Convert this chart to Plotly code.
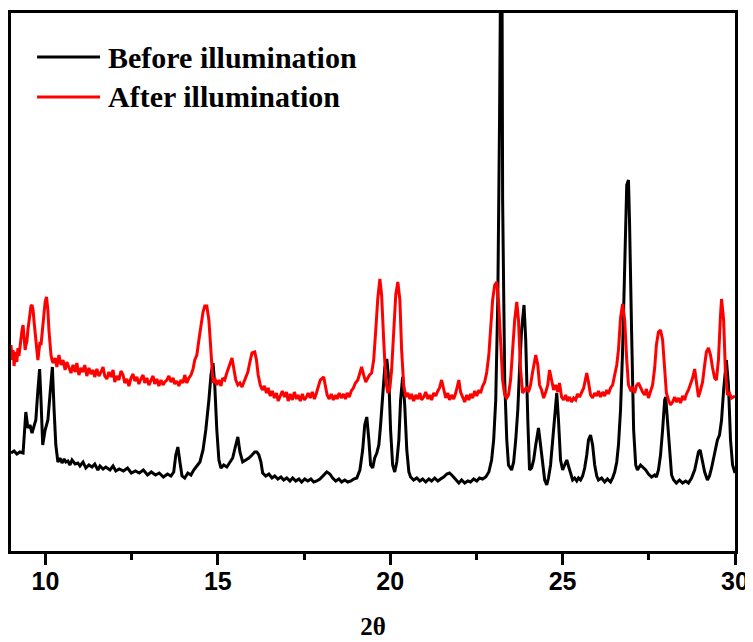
import plotly.graph_objects as go

# ---- data: 2-theta (deg) and intensity (arb. units) ----
two_theta_before = [
    9.00, 9.09, 9.17, 9.26, 9.35, 9.41, 9.43, 9.49, 9.55, 9.61,
    9.67, 9.72, 9.78, 9.83, 9.87, 9.92, 9.99, 10.07, 10.13, 10.20,
    10.25, 10.30, 10.36, 10.42, 10.48, 10.54, 10.59, 10.65, 10.71, 10.77,
    10.86, 10.94, 11.00, 11.09, 11.17, 11.26, 11.35, 11.43, 11.52, 11.58,
    11.67, 11.75, 11.87, 11.96, 12.04, 12.14, 12.26, 12.38, 12.49, 12.61,
    12.72, 12.84, 12.96, 13.07, 13.19, 13.30, 13.42, 13.54, 13.64, 13.72,
    13.78, 13.84, 13.90, 13.96, 14.04, 14.13, 14.22, 14.30, 14.39, 14.48,
    14.57, 14.65, 14.74, 14.80, 14.86, 14.91, 14.97, 15.03, 15.09, 15.17,
    15.26, 15.35, 15.43, 15.52, 15.58, 15.64, 15.72, 15.81, 15.90, 15.99,
    16.07, 16.13, 16.19, 16.25, 16.30, 16.39, 16.48, 16.57, 16.65, 16.74,
    16.83, 16.91, 17.00, 17.09, 17.17, 17.26, 17.35, 17.43, 17.52, 17.61,
    17.70, 17.78, 17.87, 17.96, 18.06, 18.16, 18.25, 18.33, 18.42, 18.51,
    18.59, 18.68, 18.77, 18.86, 18.94, 19.03, 19.12, 19.20, 19.26, 19.32,
    19.38, 19.43, 19.49, 19.55, 19.61, 19.67, 19.72, 19.78, 19.84, 19.90,
    19.96, 20.01, 20.07, 20.13, 20.19, 20.25, 20.30, 20.36, 20.42, 20.48,
    20.54, 20.59, 20.68, 20.77, 20.86, 20.94, 21.03, 21.12, 21.20, 21.29,
    21.38, 21.46, 21.55, 21.64, 21.72, 21.81, 21.90, 21.99, 22.07, 22.16,
    22.25, 22.33, 22.42, 22.51, 22.59, 22.68, 22.77, 22.86, 22.94, 23.00,
    23.06, 23.12, 23.17, 23.23, 23.26, 23.32, 23.38, 23.43, 23.52, 23.58,
    23.64, 23.70, 23.75, 23.81, 23.88, 23.93, 23.99, 24.04, 24.10, 24.16,
    24.22, 24.28, 24.30, 24.36, 24.42, 24.48, 24.54, 24.59, 24.65, 24.71,
    24.77, 24.83, 24.88, 24.94, 25.00, 25.06, 25.12, 25.17, 25.23, 25.29,
    25.35, 25.41, 25.46, 25.52, 25.58, 25.64, 25.70, 25.75, 25.81, 25.87,
    25.93, 25.99, 26.04, 26.13, 26.22, 26.30, 26.39, 26.45, 26.51, 26.57,
    26.62, 26.68, 26.74, 26.80, 26.86, 26.91, 26.94, 27.00, 27.06, 27.12,
    27.17, 27.26, 27.32, 27.41, 27.49, 27.58, 27.67, 27.72, 27.78, 27.84,
    27.90, 27.96, 27.99, 28.04, 28.10, 28.16, 28.22, 28.30, 28.39, 28.48,
    28.57, 28.65, 28.74, 28.83, 28.88, 28.94, 28.99, 29.03, 29.12, 29.20,
    29.26, 29.32, 29.38, 29.43, 29.49, 29.55, 29.61, 29.67, 29.72, 29.75,
    29.81, 29.87, 29.93, 30.00,
]
intensity_before = [
    98, 100, 97, 99, 98, 131, 139, 123, 126, 118,
    124, 131, 161, 182, 151, 106, 121, 131, 156, 184,
    141, 106, 89, 93, 88, 92, 89, 90, 86, 91,
    87, 88, 85, 89, 83, 86, 84, 87, 81, 85,
    82, 84, 81, 85, 80, 82, 80, 83, 78, 80,
    78, 81, 76, 79, 76, 78, 74, 77, 75, 79,
    96, 104, 89, 75, 73, 78, 76, 81, 85, 89,
    101, 121, 151, 176, 188, 166, 121, 91, 83, 86,
    84, 89, 93, 106, 114, 99, 89, 91, 93, 96,
    99, 99, 96, 89, 78, 75, 77, 73, 75, 72,
    74, 71, 73, 70, 73, 70, 72, 69, 72, 70,
    72, 69, 70, 72, 76, 79, 77, 73, 70, 72,
    69, 71, 69, 70, 72, 73, 81, 101, 126, 134,
    111, 86, 83, 93, 98, 106, 126, 156, 183, 192,
    171, 121, 86, 79, 89, 111, 151, 174, 146, 101,
    79, 74, 71, 73, 70, 72, 69, 72, 70, 73,
    70, 72, 74, 77, 78, 75, 71, 68, 71, 68,
    70, 69, 72, 70, 73, 72, 74, 79, 91, 111,
    151, 251, 431, 720, 351, 171, 111, 86, 81, 89,
    111, 141, 181, 221, 246, 211, 131, 81, 83, 91,
    106, 119, 123, 106, 86, 71, 66, 73, 86, 111,
    141, 158, 131, 91, 81, 86, 91, 85, 77, 71,
    73, 70, 73, 71, 75, 83, 96, 111, 116, 106,
    86, 75, 71, 73, 69, 72, 69, 73, 79, 89,
    106, 141, 201, 291, 366, 371, 331, 221, 121, 86,
    81, 86, 84, 81, 77, 74, 76, 74, 81, 96,
    121, 151, 154, 131, 96, 76, 71, 68, 71, 68,
    70, 68, 73, 81, 89, 99, 101, 93, 79, 71,
    75, 83, 93, 101, 111, 116, 131, 161, 186, 191,
    166, 111, 86, 78,
]

two_theta_after = [
    9.00, 9.03, 9.06, 9.09, 9.12, 9.14, 9.17, 9.20, 9.23, 9.26,
    9.29, 9.32, 9.35, 9.38, 9.41, 9.43, 9.46, 9.49, 9.52, 9.55,
    9.58, 9.61, 9.64, 9.67, 9.70, 9.72, 9.75, 9.78, 9.81, 9.84,
    9.87, 9.90, 9.93, 9.96, 9.99, 10.03, 10.07, 10.10, 10.13, 10.16,
    10.19, 10.22, 10.28, 10.33, 10.39, 10.45, 10.51, 10.57, 10.62, 10.68,
    10.74, 10.80, 10.86, 10.91, 10.97, 11.03, 11.09, 11.14, 11.20, 11.26,
    11.32, 11.38, 11.43, 11.49, 11.55, 11.61, 11.67, 11.72, 11.78, 11.84,
    11.90, 11.96, 12.01, 12.07, 12.13, 12.19, 12.25, 12.30, 12.36, 12.42,
    12.48, 12.54, 12.59, 12.65, 12.71, 12.77, 12.83, 12.88, 12.94, 13.00,
    13.06, 13.12, 13.17, 13.23, 13.29, 13.35, 13.41, 13.46, 13.52, 13.58,
    13.64, 13.70, 13.75, 13.81, 13.87, 13.93, 13.99, 14.04, 14.10, 14.16,
    14.22, 14.28, 14.33, 14.39, 14.45, 14.51, 14.57, 14.62, 14.68, 14.74,
    14.80, 14.86, 14.91, 14.97, 15.03, 15.09, 15.14, 15.20, 15.26, 15.32,
    15.38, 15.41, 15.46, 15.52, 15.58, 15.64, 15.70, 15.75, 15.81, 15.87,
    15.93, 15.99, 16.07, 16.12, 16.17, 16.23, 16.29, 16.35, 16.41, 16.46,
    16.52, 16.58, 16.64, 16.70, 16.75, 16.81, 16.87, 16.93, 16.99, 17.04,
    17.10, 17.16, 17.22, 17.28, 17.33, 17.39, 17.45, 17.51, 17.57, 17.62,
    17.68, 17.74, 17.80, 17.86, 17.91, 17.97, 18.07, 18.12, 18.17, 18.23,
    18.29, 18.35, 18.41, 18.46, 18.52, 18.58, 18.64, 18.70, 18.75, 18.81,
    18.87, 18.93, 18.99, 19.06, 19.12, 19.17, 19.23, 19.29, 19.35, 19.40,
    19.46, 19.52, 19.58, 19.64, 19.70, 19.75, 19.81, 19.87, 19.93, 19.99,
    20.04, 20.10, 20.16, 20.22, 20.28, 20.33, 20.39, 20.45, 20.51, 20.57,
    20.62, 20.68, 20.74, 20.80, 20.86, 20.91, 20.97, 21.03, 21.09, 21.14,
    21.20, 21.26, 21.32, 21.38, 21.43, 21.49, 21.55, 21.61, 21.67, 21.72,
    21.78, 21.84, 21.90, 21.96, 21.99, 22.04, 22.10, 22.16, 22.22, 22.28,
    22.33, 22.39, 22.45, 22.51, 22.57, 22.62, 22.68, 22.74, 22.80, 22.86,
    22.91, 22.97, 23.03, 23.09, 23.14, 23.20, 23.26, 23.32, 23.38, 23.43,
    23.49, 23.55, 23.61, 23.67, 23.72, 23.78, 23.84, 23.90, 23.96, 24.01,
    24.07, 24.13, 24.19, 24.22, 24.28, 24.33, 24.39, 24.45, 24.51, 24.57,
    24.62, 24.68, 24.74, 24.80, 24.86, 24.91, 24.97, 25.03, 25.09, 25.14,
    25.20, 25.26, 25.32, 25.38, 25.43, 25.49, 25.55, 25.61, 25.67, 25.70,
    25.75, 25.81, 25.87, 25.93, 25.99, 26.04, 26.10, 26.16, 26.22, 26.28,
    26.33, 26.39, 26.45, 26.51, 26.57, 26.62, 26.68, 26.74, 26.80, 26.86,
    26.91, 26.97, 27.03, 27.09, 27.14, 27.20, 27.26, 27.32, 27.38, 27.43,
    27.49, 27.55, 27.61, 27.67, 27.72, 27.78, 27.84, 27.90, 27.96, 28.01,
    28.07, 28.13, 28.19, 28.25, 28.30, 28.36, 28.42, 28.48, 28.54, 28.59,
    28.65, 28.71, 28.77, 28.83, 28.88, 28.94, 29.00, 29.06, 29.12, 29.17,
    29.23, 29.29, 29.35, 29.41, 29.46, 29.52, 29.58, 29.61, 29.67, 29.72,
    29.78, 29.84, 29.90, 30.00,
]
intensity_after = [
    206, 191, 201, 185, 196, 199, 189, 203, 195, 206,
    213, 221, 226, 211, 201, 206, 209, 221, 231, 239,
    245, 246, 241, 229, 216, 206, 201, 191, 199, 209,
    206, 216, 231, 241, 249, 254, 241, 221, 206, 196,
    191, 188, 193, 184, 196, 186, 191, 181, 189, 183,
    178, 186, 179, 188, 176, 183, 179, 186, 175, 183,
    177, 181, 174, 182, 175, 179, 184, 175, 172, 179,
    174, 181, 169, 175, 171, 180, 176, 168, 172, 165,
    173, 177, 170, 174, 167, 172, 176, 168, 173, 166,
    170, 175, 167, 172, 165, 171, 166, 169, 171, 175,
    169, 173, 167, 170, 165, 171, 168, 176, 168, 173,
    176, 182, 191, 196, 211, 226, 239, 245, 245, 231,
    196, 168, 173, 166, 171, 165, 173, 171, 178, 185,
    191, 193, 183, 171, 166, 168, 164, 168, 173, 179,
    189, 198, 199, 191, 176, 166, 161, 165, 158, 163,
    155, 160, 153, 158, 150, 156, 160, 154, 159, 150,
    157, 151, 159, 152, 156, 150, 157, 151, 154, 158,
    153, 159, 152, 158, 165, 171, 174, 163, 156, 152,
    157, 151, 156, 152, 158, 153, 157, 152, 158, 154,
    160, 163, 168, 171, 179, 184, 176, 169, 173, 176,
    178, 191, 221, 253, 272, 256, 211, 171, 158, 163,
    181, 221, 256, 269, 251, 201, 166, 154, 158, 152,
    157, 150, 156, 152, 158, 151, 154, 159, 152, 156,
    151, 158, 155, 160, 163, 171, 160, 153, 158, 151,
    156, 152, 158, 167, 171, 159, 153, 149, 156, 151,
    157, 153, 160, 155, 161, 158, 165, 169, 179, 196,
    221, 251, 266, 269, 251, 211, 171, 156, 153, 156,
    171, 201, 231, 249, 231, 181, 158, 161, 164, 159,
    166, 179, 191, 196, 186, 166, 161, 153, 159, 166,
    181, 169, 161, 166, 159, 168, 154, 151, 156, 150,
    154, 149, 153, 151, 157, 154, 159, 163, 173, 178,
    169, 156, 153, 158, 155, 160, 154, 159, 155, 161,
    157, 163, 166, 176, 186, 201, 233, 247, 231, 191,
    166, 161, 163, 158, 165, 168, 163, 159, 156, 162,
    153, 159, 166, 183, 206, 219, 221, 211, 181, 158,
    151, 146, 149, 154, 149, 153, 148, 155, 151, 157,
    161, 167, 173, 182, 171, 154, 161, 169, 186, 199,
    203, 196, 183, 173, 171, 191, 236, 252, 231, 181,
    156, 158, 153, 155,
]

series_names = ["Before illumination", "After illumination"]
series_colors = ["#000000", "#ff0000"]
x_ticks = [10, 15, 20, 25, 30]
x_minor_ticks = [12.5, 17.5, 22.5, 27.5]

fig = go.Figure()
fig.add_trace(go.Scatter(x=two_theta_before, y=intensity_before, mode="lines",
                         name=series_names[0], line=dict(color=series_colors[0], width=3)))
fig.add_trace(go.Scatter(x=two_theta_after, y=intensity_after, mode="lines",
                         name=series_names[1], line=dict(color=series_colors[1], width=3)))

serif = "Times New Roman, Liberation Serif, serif"
sans = "Arial, Liberation Sans, sans-serif"

# the page body has an 8px margin, so the figure is sized to end at the window edge
fig.update_layout(
    template="none",
    width=745, height=634,
    margin=dict(l=3, r=18, t=5, b=91),
    plot_bgcolor="white", paper_bgcolor="white",
    showlegend=False,
    xaxis=dict(
        range=[9.0, 30.0], showgrid=False, zeroline=False, automargin=False,
        showline=True, linecolor="black", linewidth=3, mirror=True,
        tickmode="array", tickvals=x_ticks, ticktext=[str(v) for v in x_ticks],
        ticks="outside", ticklen=11, tickwidth=2.5, tickcolor="black",
        tickfont=dict(family=sans, size=25, color="black", weight="bold"),
        ticklabelstandoff=-5,
        minor=dict(tickmode="array", tickvals=x_minor_ticks,
                   ticks="outside", ticklen=6, tickwidth=2.5, tickcolor="black", showgrid=False),
        title=dict(text="2θ", font=dict(family=serif, size=25, color="black", weight="bold"),
                   standoff=24),
    ),
    yaxis=dict(
        range=[0, 538], showgrid=False, zeroline=False, automargin=False,
        showline=True, linecolor="black", linewidth=3, mirror=True,
        ticks="", showticklabels=False,
    ),
)

# legend drawn as sample lines + real text
legend_y = [0.918, 0.844]
for name, color, ly in zip(series_names, series_colors, legend_y):
    fig.add_shape(type="line", xref="paper", yref="paper", x0=0.036, x1=0.123, y0=ly, y1=ly,
                  line=dict(color=color, width=3))
    fig.add_annotation(xref="paper", yref="paper", x=0.131, y=ly, xanchor="left", yanchor="middle",
                       text=name, showarrow=False,
                       font=dict(family=serif, size=30, color="black", weight="bold"))

fig.write_html("out.html")
